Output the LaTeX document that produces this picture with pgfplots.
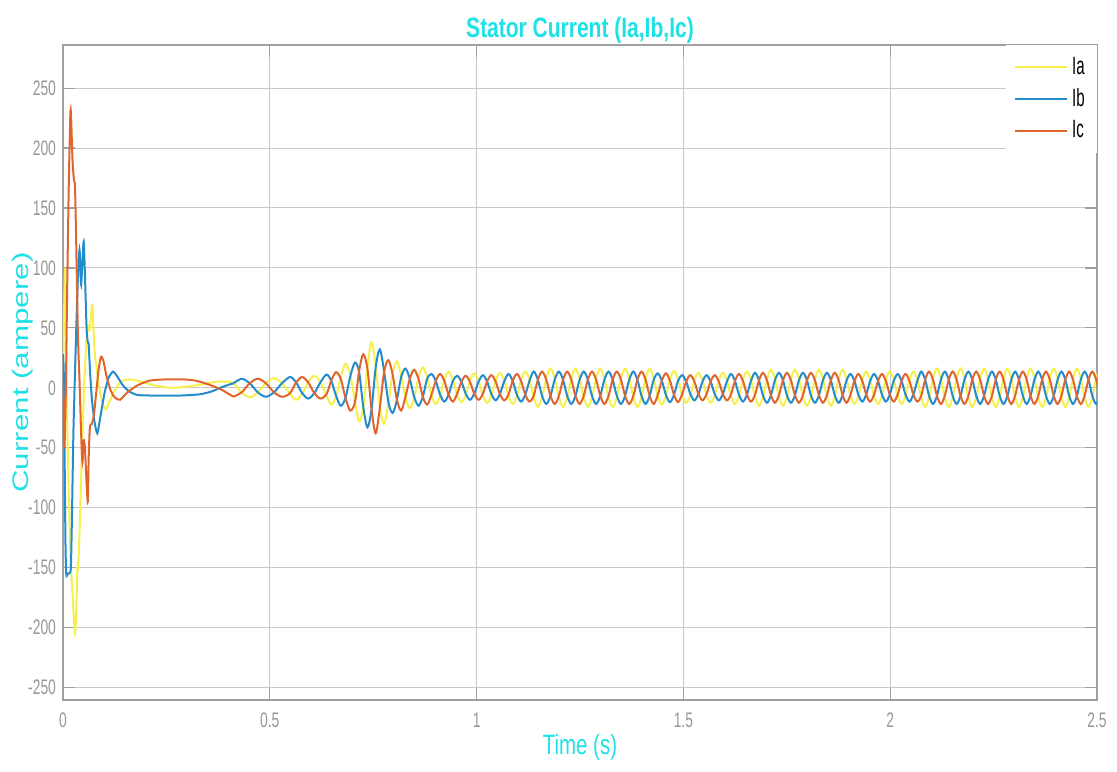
\documentclass[border=0pt]{standalone}
\usepackage{pgfplots}
\pgfplotsset{compat=1.18}
\usepackage{pgfplotstable}
\usepackage{fontspec}
\setmainfont{Liberation Sans}
\newfontfamily\tickfont{Liberation Sans}[FakeStretch=0.66]
\newfontfamily\labfont{Liberation Sans}[FakeStretch=0.73]
\newfontfamily\titlefont{Liberation Sans}[FakeStretch=0.75]
\newfontfamily\ylabfont{Liberation Sans}[FakeStretch=1.4]
\newfontfamily\legfont{Liberation Sans}[FakeStretch=0.6]
\definecolor{cA}{RGB}{245,240,75}
\definecolor{cB}{RGB}{35,140,205}
\definecolor{cC}{RGB}{225,100,45}
\definecolor{cyanlab}{RGB}{30,225,230}
\definecolor{ticktxt}{RGB}{150,150,150}
\definecolor{gridc}{RGB}{200,200,200}
\definecolor{boxc}{RGB}{160,160,160}

\pgfplotstableread{
t a b c
0.4125 4 3.75 -7.5
0.432 -4 7.5 -3.75
0.4515 -8 3.75 3.75
0.471 -4 -3.75 7.5
0.4905 4 -7.5 3.75
0.510 8 -3.75 -3.75
0.5295 4 3.75 -7.5
0.549 -5 9 -4.5
0.5637 -10 4.5 4.5
0.5783 -5 -4.5 9
0.593 5 -9 4.5
0.6077 10 -4.5 -4.5
0.6223 5 4.5 -9
0.637 -6.5 11 -5.5
0.6485 -14 6 6
0.660 -7.5 -6.5 13
0.6715 8.75 -15 7.5
0.683 20 -8.5 -8.5
0.6945 11 9.5 -19
0.706 -12 21 -12
0.716 -28 13 14
0.726 -17 -16 28
0.736 17 -33 16
0.746 38 -18 -18
0.756 19 17 -38
0.766 -16 32 -17
0.7763 -30 14 13
0.7867 -13 -12 23
0.797 12 -21 11
0.8073 22 -10 -10
0.8177 10 9 -19
0.828 -8.5 16 -7.5
0.8385 -17 7.5 7.5
0.849 -8.5 -7.5 15
0.8595 8.5 -15 7.5
0.870 17 -7.5 -7.5
0.8805 8.5 7.5 -14
0.891 -6.75 11.5 -5.75
0.9013 -13.5 5.75 5.75
0.9117 -6.75 -5.75 11.5
0.922 6.75 -11.5 5.75
0.9323 13.5 -5.75 -5.75
0.9427 6.75 5.75 -11.5
0.953 -6 10 -5
0.9633 -12 5 5
0.9737 -6 -5 10
0.984 6 -10 5
0.9943 12 -5 -5
1.0047 6 5 -10
1.015 -6.25 10.5 -5.25
1.0253 -12.5 5.25 5.25
1.0357 -6.25 -5.25 10.5
1.046 6.25 -10.5 5.25
1.0563 12.5 -5.25 -5.25
1.0667 6.25 5.25 -10.5
1.077 -6.75 11.5 -5.75
1.0872 -13.5 5.75 5.75
1.0973 -6.75 -5.75 11.5
1.1075 6.75 -11.5 5.75
1.1177 13.5 -5.75 -5.75
1.1278 6.75 5.75 -11.5
1.138 -8 13.5 -6.75
1.1482 -16 6.75 6.75
1.1583 -8 -6.75 13.5
1.1685 8 -13.5 6.75
1.1787 16 -6.75 -6.75
1.1888 8 6.75 -13.5
1.199 -8 13.5 -6.75
1.209 -16 6.75 6.75
1.219 -8 -6.75 13.5
1.229 8 -13.5 6.75
1.239 16 -6.75 -6.75
1.249 8 6.75 -13.5
1.259 -8 13.5 -6.75
1.269 -16 6.75 6.75
1.279 -8 -6.75 13.5
1.289 8 -13.5 6.75
1.299 16 -6.75 -6.75
1.309 8 6.75 -13.5
1.319 -8 13.5 -6.75
1.329 -16 6.75 6.75
1.339 -8 -6.75 13.5
1.349 8 -13.5 6.75
1.359 16 -6.75 -6.75
1.369 8 6.75 -13.5
1.379 -8 13.5 -6.75
1.3888 -16 6.75 6.75
1.3987 -8 -6.75 13.5
1.4085 8 -13.5 6.75
1.4183 16 -6.75 -6.75
1.4282 8 6.75 -13.5
1.438 -7 12 -6
1.4478 -14 6 6
1.4577 -7 -6 12
1.4675 7 -12 6
1.4773 14 -6 -6
1.4872 7 6 -12
1.497 -6.25 10.5 -5.25
1.5068 -12.5 5.25 5.25
1.5167 -6.25 -5.25 10.5
1.5265 6.25 -10.5 5.25
1.5363 12.5 -5.25 -5.25
1.5462 6.25 5.25 -10.5
1.556 -6.25 10.5 -5.25
1.5658 -12.5 5.25 5.25
1.5757 -6.25 -5.25 10.5
1.5855 6.25 -10.5 5.25
1.5953 12.5 -5.25 -5.25
1.6052 6.25 5.25 -10.5
1.615 -6.75 11.5 -5.75
1.6247 -13.5 5.75 5.75
1.6343 -6.75 -5.75 11.5
1.644 6.75 -11.5 5.75
1.6537 13.5 -5.75 -5.75
1.6633 6.75 5.75 -11.5
1.673 -7.5 12.5 -6.25
1.6827 -15 6.25 6.25
1.6923 -7.5 -6.25 12.5
1.702 7.5 -12.5 6.25
1.7117 15 -6.25 -6.25
1.7213 7.5 6.25 -12.5
1.731 -7.5 12.5 -6.25
1.7407 -15 6.25 6.25
1.7503 -7.5 -6.25 12.5
1.760 7.5 -12.5 6.25
1.7697 15 -6.25 -6.25
1.7793 7.5 6.25 -12.5
1.789 -7.5 12.5 -6.25
1.7987 -15 6.25 6.25
1.8083 -7.5 -6.25 12.5
1.818 7.5 -12.5 6.25
1.8277 15 -6.25 -6.25
1.8373 7.5 6.25 -12.5
1.847 -7.5 12.5 -6.25
1.8565 -15 6.25 6.25
1.866 -7.5 -6.25 12.5
1.8755 7.5 -12.5 6.25
1.885 15 -6.25 -6.25
1.8945 7.5 6.25 -12.5
1.904 -6.75 11.5 -5.75
1.9135 -13.5 5.75 5.75
1.923 -6.75 -5.75 11.5
1.9325 6.75 -11.5 5.75
1.942 13.5 -5.75 -5.75
1.9515 6.75 5.75 -11.5
1.961 -6.75 11.5 -5.75
1.9705 -13.5 5.75 5.75
1.980 -6.75 -5.75 11.5
1.9895 6.75 -11.5 5.75
1.999 13.5 -5.75 -5.75
2.0085 6.75 5.75 -11.5
2.018 -6.75 11.5 -5.75
2.0275 -13.5 5.75 5.75
2.037 -6.75 -5.75 11.5
2.0465 6.75 -11.5 5.75
2.056 13.5 -5.75 -5.75
2.0655 6.75 5.75 -11.5
2.075 -8 13.5 -6.75
2.0845 -16 6.75 6.75
2.094 -8 -6.75 13.5
2.1035 8 -13.5 6.75
2.113 16 -6.75 -6.75
2.1225 8 6.75 -13.5
2.132 -8 13.5 -6.75
2.1415 -16 6.75 6.75
2.151 -8 -6.75 13.5
2.1605 8 -13.5 6.75
2.170 16 -6.75 -6.75
2.1795 8 6.75 -13.5
2.189 -8 13.5 -6.75
2.1985 -16 6.75 6.75
2.208 -8 -6.75 13.5
2.2175 8 -13.5 6.75
2.227 16 -6.75 -6.75
2.2365 8 6.75 -13.5
2.246 -8 13.5 -6.75
2.2553 -16 6.75 6.75
2.2647 -8 -6.75 13.5
2.274 8 -13.5 6.75
2.2833 16 -6.75 -6.75
2.2927 8 6.75 -13.5
2.302 -8 13.5 -6.75
2.3113 -16 6.75 6.75
2.3207 -8 -6.75 13.5
2.330 8 -13.5 6.75
2.3393 16 -6.75 -6.75
2.3487 8 6.75 -13.5
2.358 -8 13.5 -6.75
2.3673 -16 6.75 6.75
2.3767 -8 -6.75 13.5
2.386 8 -13.5 6.75
2.3953 16 -6.75 -6.75
2.4047 8 6.75 -13.5
2.414 -8 13.5 -6.75
2.4233 -16 6.75 6.75
2.4327 -8 -6.75 13.5
2.442 8 -13.5 6.75
2.4513 16 -6.75 -6.75
2.4607 8 6.75 -13.5
2.470 -8 13.5 -6.75
2.4793 -16 6.75 6.75
2.4887 -8 -6.75 13.5
2.498 8 -13.5 6.75
2.5073 16 -6.75 -6.75
2.5167 8 6.75 -13.5
2.526 -8 13.5 -6.75
}\osc

\begin{document}
\begin{tikzpicture}
\path[use as bounding box] (-31.5pt,-35.5pt) rectangle (527pt,350pt);
\begin{axis}[
  at={(0,0)}, anchor=south west,
  scale only axis, width=517pt, height=327.5pt,
  xmin=0, xmax=2.5, ymin=-260.5, ymax=286,
  xtick={0,0.5,1,1.5,2,2.5},
  ytick={-250,-200,-150,-100,-50,0,50,100,150,200,250},
  scaled ticks=false,
  /pgf/number format/assume math mode=true,
  grid=major,
  major grid style={draw=gridc, line width=0.5pt},
  axis line style={draw=boxc, line width=0.6pt},
  tick align=inside,
  major tick length=6pt,
  tick style={draw=boxc, line width=0.6pt},
  tick label style={font=\tickfont\fontsize{10.5}{12}\selectfont, text=ticktxt},
  xticklabel style={yshift=-3pt},
  title={Stator Current (Ia,Ib,Ic)},
  title style={font=\titlefont\bfseries\fontsize{14}{16}\selectfont, text=cyanlab, at={(axis description cs:0.5,1)}, anchor=south, yshift=-7pt, inner sep=1.5pt},
  xlabel={Time (s)},
  xlabel style={font=\labfont\fontsize{14}{16}\selectfont, text=cyanlab, at={(axis description cs:0.5,-0.0718)}, anchor=center},
  ylabel={Current (ampere)},
  ylabel style={font=\ylabfont\fontsize{11.2}{13}\selectfont, text=cyanlab, at={(axis description cs:-0.0386,0.5)}, anchor=center},
  legend style={at={(axis description cs:1,1)}, anchor=north east, draw=none, fill=white,
    font=\legfont\fontsize{12.5}{14}\selectfont, inner xsep=4pt, inner ysep=4pt, row sep=1.5pt},
  legend cell align=left,
  legend image code/.code={\draw[#1, line width=1pt] (0pt,0pt) -- (26pt,0pt);},
  every axis plot/.append style={line width=1pt},
]
% Ia
\addplot[cA, smooth, tension=0.4] coordinates {
(0,0) (0.0025,60) (0.005,100) (0.007,60) (0.010,-20) (0.013,-75) (0.018,-140) (0.024,-178) (0.029,-205) (0.032,-185) (0.035,-150) (0.037,-148) (0.041,-110) (0.046,-50) (0.051,0) (0.056,35) (0.060,52) (0.064,48) (0.068,62) (0.071,69) (0.074,45) (0.077,28) (0.082,15) (0.090,-5) (0.098,-15) (0.104,-18) (0.112,-12) (0.125,-2) (0.14,5) (0.16,7) (0.19,5) (0.22,2) (0.26,0) (0.30,1) (0.34,3) (0.37,5) (0.40,5) (0.4125,4)
};
\addplot[cA, smooth, forget plot] table[x=t, y=a] {\osc};
% Ib
\addplot[cB, smooth, tension=0.4] coordinates {
(0,28) (0.002,10) (0.004,-60) (0.006,-130) (0.008,-156) (0.012,-155) (0.0186,-152) (0.021,-120) (0.025,-40) (0.028,0) (0.033,60) (0.037,100) (0.040,115) (0.042,100) (0.044,86) (0.047,105) (0.050,122) (0.053,95) (0.057,50) (0.060,38) (0.062,36) (0.066,10) (0.070,-10) (0.076,-28) (0.083,-38) (0.090,-25) (0.100,-5) (0.110,8) (0.121,13.5) (0.130,10) (0.145,2) (0.16,-3) (0.18,-6) (0.22,-6.5) (0.28,-6.5) (0.33,-5.5) (0.36,-3) (0.38,0) (0.40,2.5) (0.4125,3.75)
};
\addplot[cB, smooth, forget plot] table[x=t, y=b] {\osc};
% Ic
\addplot[cC, smooth, tension=0.4] coordinates {
(0,0) (0.002,-30) (0.004,-45) (0.007,0) (0.010,80) (0.014,170) (0.0175,225) (0.0186,232) (0.020,222) (0.023,190) (0.0265,173) (0.029,168) (0.032,120) (0.036,45) (0.040,5) (0.044,-40) (0.047,-62) (0.050,-44) (0.053,-50) (0.057,-80) (0.060,-95) (0.062,-60) (0.065,-33) (0.070,-30) (0.075,-22) (0.080,-5) (0.086,15) (0.092,26) (0.098,22) (0.105,10) (0.115,-2) (0.125,-8) (0.138,-10) (0.155,-4) (0.18,2) (0.21,6) (0.25,7) (0.29,7) (0.32,6) (0.35,3) (0.38,-1) (0.40,-5) (0.4125,-7.5)
};
\addplot[cC, smooth, forget plot] table[x=t, y=c] {\osc};
\legend{Ia,Ib,Ic}
\end{axis}
\end{tikzpicture}
\end{document}
